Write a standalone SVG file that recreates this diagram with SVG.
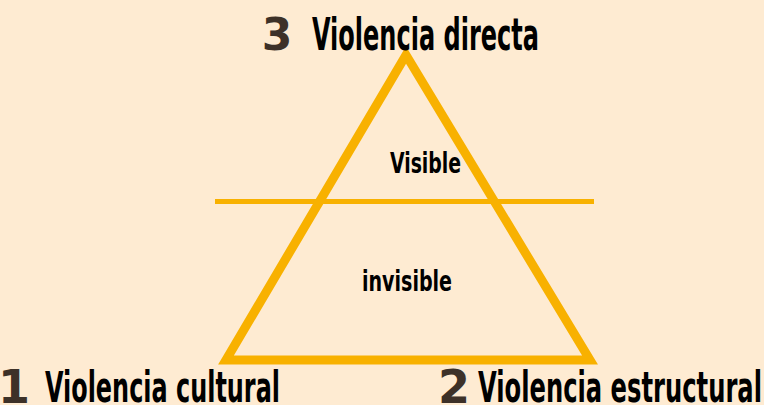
<svg xmlns="http://www.w3.org/2000/svg" width="764" height="405" viewBox="0 0 764 405">
<style>
.t{font-family:"Liberation Sans Narrow","DejaVu Sans Condensed","Liberation Sans",sans-serif;font-weight:bold;fill:#000}
.n{font-family:"DejaVu Sans","Liberation Sans",sans-serif;font-weight:900;fill:#3d3128}
.o{fill:none;stroke:#f8b100}
</style>
<rect width="764" height="405" fill="#feebd2"/>
<g id="connectors">
<path class="o" d="M406 55 L590 360 L226 360 Z" stroke-width="9" stroke-linejoin="miter"/>
<line class="o" x1="215" y1="201.5" x2="594" y2="201.5" stroke-width="5"/>
</g>
<g id="n3">
<text class="n" x="277" y="50" font-size="44" text-anchor="middle">3</text>
<text class="t" x="312" y="50" font-size="44" textLength="227" lengthAdjust="spacingAndGlyphs">Violencia directa</text>
</g>
<g id="visible"><text class="t" x="390" y="173" font-size="29" textLength="71" lengthAdjust="spacingAndGlyphs">Visible</text></g>
<g id="invisible"><text class="t" x="362" y="291" font-size="29" textLength="90" lengthAdjust="spacingAndGlyphs">invisible</text></g>
<g id="n1">
<text class="n" x="14" y="403" font-size="46" text-anchor="middle">1</text>
<text class="t" x="45" y="402" font-size="42" textLength="235" lengthAdjust="spacingAndGlyphs">Violencia cultural</text>
</g>
<g id="n2">
<text class="n" x="454" y="403" font-size="46" text-anchor="middle">2</text>
<text class="t" x="478" y="402" font-size="42" textLength="284" lengthAdjust="spacingAndGlyphs">Violencia estructural</text>
</g>
</svg>
